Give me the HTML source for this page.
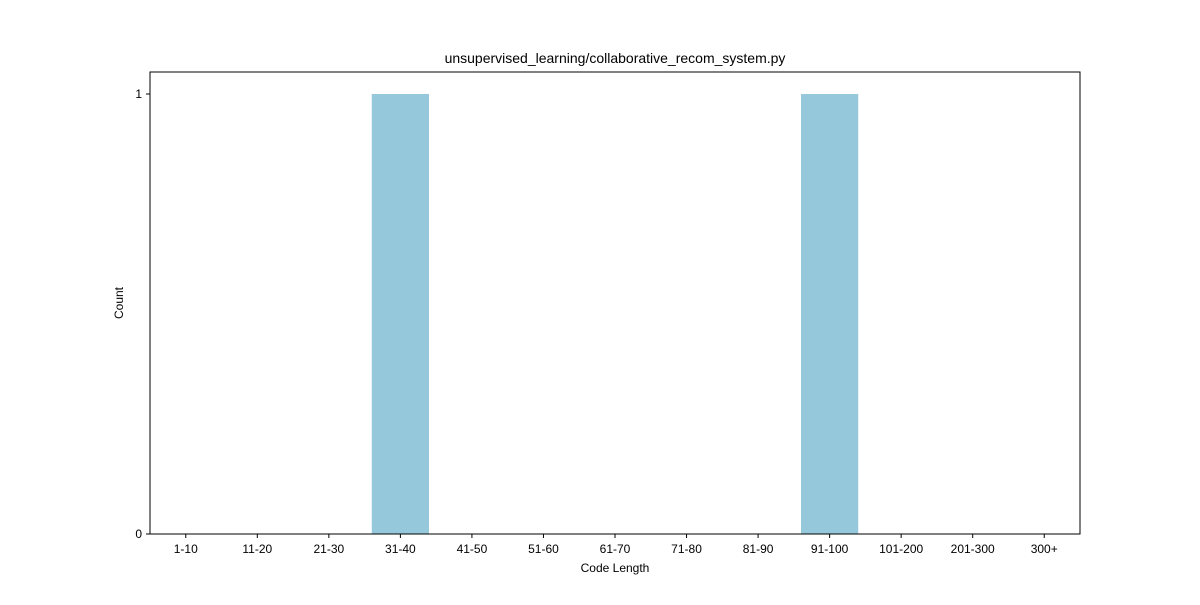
<!DOCTYPE html>
<html><head><meta charset="utf-8"><style>
body{margin:0;background:#fff;}
svg text{font-family:"Liberation Sans","DejaVu Sans",sans-serif;fill:#000;}
</style></head><body>
<svg id="chart" width="1200" height="600" xmlns="http://www.w3.org/2000/svg">
<rect width="1200" height="600" fill="#fff"/>
<text x="615" y="63" font-size="14" text-anchor="middle">unsupervised_learning/collaborative_recom_system.py</text>
<g id="bars"></g>
<g id="xticks"></g>
<g id="yticks"></g>
<rect x="150" y="72" width="930" height="462" fill="none" stroke="#000" stroke-width="1"/>
<text x="615" y="572" font-size="12" text-anchor="middle">Code Length</text>
<text x="123" y="303" font-size="12" text-anchor="middle" transform="rotate(-90 123 303)">Count</text>
</svg>
<script>
const categories=["1-10","11-20","21-30","31-40","41-50","51-60","61-70","71-80","81-90","91-100","101-200","201-300","300+"];
const counts=[0,0,0,1,0,0,0,0,0,1,0,0,0];
const yTicks=[0,1];
const L=150,R=1080,T=72,B=534,yMax=1.05;
const NS="http://www.w3.org/2000/svg";
const step=(R-L)/categories.length;
function xc(i){return L+step*(i+0.5);}
function y(v){return B-(v/yMax)*(B-T);}
const bars=document.getElementById('bars'),xt=document.getElementById('xticks'),yt=document.getElementById('yticks');
categories.forEach((c,i)=>{
  const v=counts[i];
  if(v>0){
    const r=document.createElementNS(NS,'rect');
    r.setAttribute('x',xc(i)-step*0.4);r.setAttribute('width',step*0.8);
    r.setAttribute('y',y(v));r.setAttribute('height',y(0)-y(v));
    r.setAttribute('fill','#96c8dc');
    
    
    bars.appendChild(r);
  }
  const l=document.createElementNS(NS,'line');
  l.setAttribute('x1',xc(i));l.setAttribute('x2',xc(i));l.setAttribute('y1',B);l.setAttribute('y2',B+4);l.setAttribute('stroke','#000');
  
  
  xt.appendChild(l);
  const t=document.createElementNS(NS,'text');
  t.setAttribute('x',xc(i));t.setAttribute('y',B+19);t.setAttribute('font-size','12');t.setAttribute('text-anchor','middle');
  t.textContent=c;
  
  
  xt.appendChild(t);
});
yTicks.forEach(v=>{
  const l=document.createElementNS(NS,'line');
  l.setAttribute('x1',L-4);l.setAttribute('x2',L);l.setAttribute('y1',y(v));l.setAttribute('y2',y(v));l.setAttribute('stroke','#000');
  
  
  yt.appendChild(l);
  const t=document.createElementNS(NS,'text');
  t.setAttribute('x',L-8);t.setAttribute('y',y(v)+4);t.setAttribute('font-size','12');t.setAttribute('text-anchor','end');
  t.textContent=v;
  
  
  yt.appendChild(t);
});
</script>
</body></html>
